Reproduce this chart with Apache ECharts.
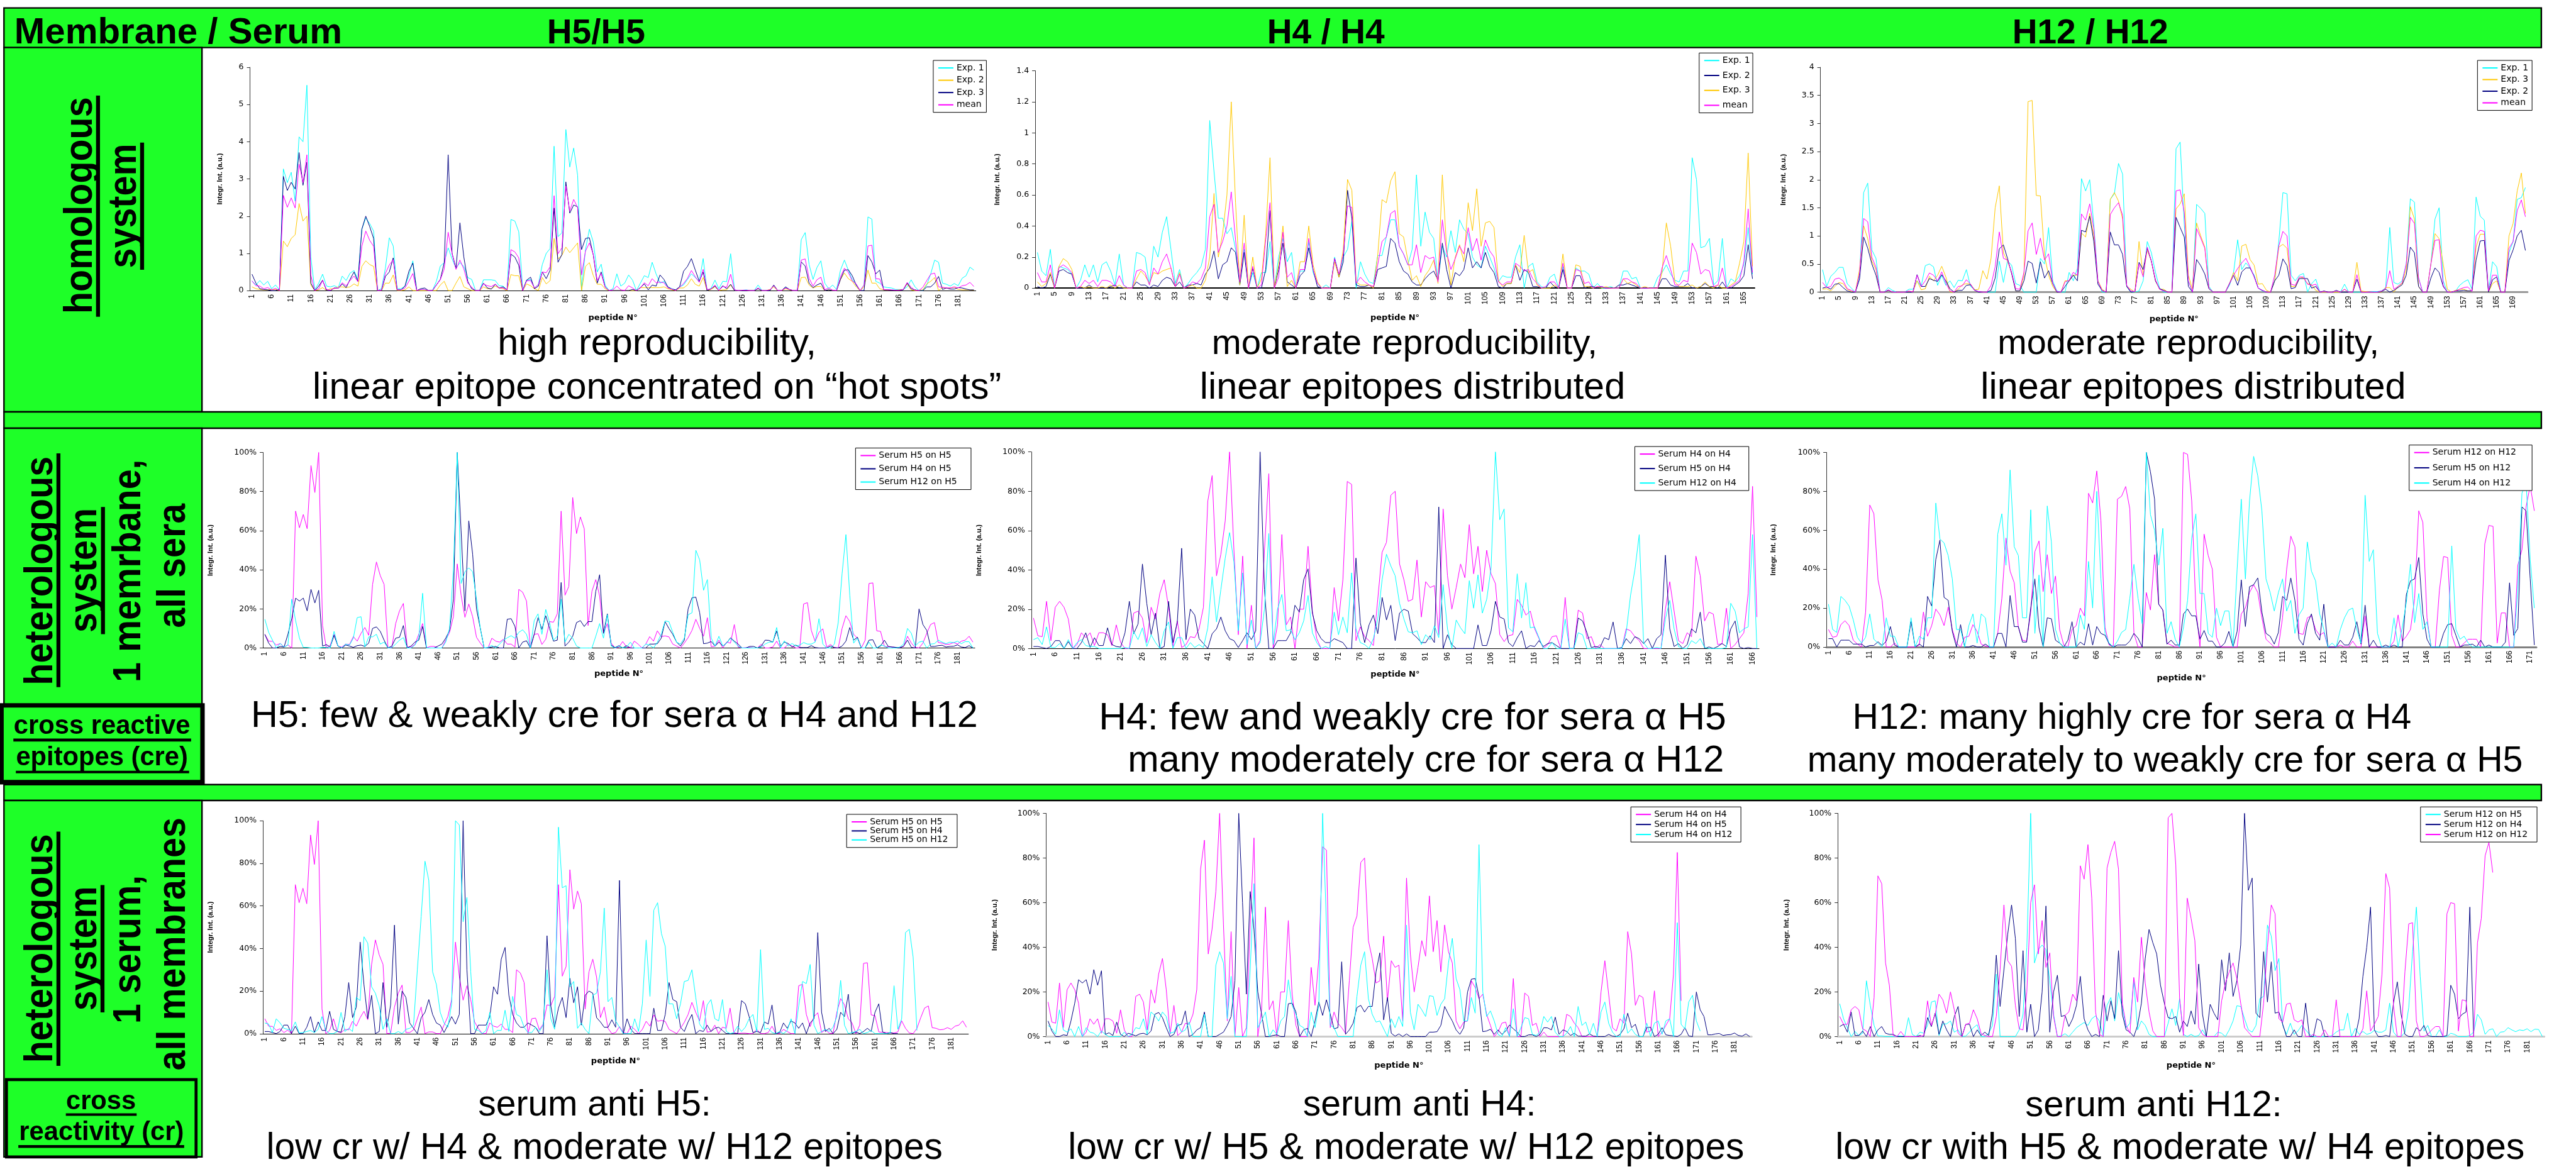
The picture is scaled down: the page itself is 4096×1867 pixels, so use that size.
<!DOCTYPE html>
<html><head><meta charset="utf-8">
<style>html,body{margin:0;padding:0;background:#fff}#c{width:4096px;height:1867px}</style>
<script src="https://cdn.jsdelivr.net/npm/echarts@6/dist/echarts.min.js"></script>
</head><body><div id="c"></div>
<script>
// ---------- values ----------
const exp1H5=[.26,.15,.27,.15,.25,.05,.15,.02,3.27,2.9,
3.18,2.4,4.13,4,5.52,.9,.02,.2,.44,.12,
.1,.13,.08,.39,.27,.47,.54,.3,1.65,1.95,
1.8,1.6,0,.05,.6,1.42,1.2,.05,.05,.12,
.4,.8,0,.03,.03,0,0,.25,.66,.75,
1.15,.85,.6,.75,.65,.35,.3,0,0,.29,
.29,.29,.27,.13,.12,.02,1.91,1.87,1.58,.03,
.28,.3,.07,.17,.7,1,1.13,3.88,1.45,1.55,
4.33,3.32,3.83,3.1,0,1.1,1.65,1.3,.5,.71,
.15,0,.05,.45,.12,.2,.42,.28,0,.2,
.4,.35,.76,.45,.2,.25,.1,.05,.02,.1,
.15,.3,.45,.35,.25,.86,0,.06,.28,.05,
.25,.24,.99,.02,0,.01,.02,0,0,.15,
0,0,.02,.12,0,0,.08,.02,0,0,
1.37,1.56,.7,.3,.62,.8,.2,.05,.15,.03,
.55,.82,.55,.3,.15,0,.15,1.98,1.92,.25,
.2,.1,.08,.07,.03,.03,.03,.1,.29,.1,
0,0,.15,.45,.82,.76,.2,.17,.12,.19,
.13,.33,.4,.63,.55];
const exp2H5=[.1,.05,.03,.02,.02,.03,.03,0,1.33,1.18,
1.4,1.5,2.34,1.87,2,.15,0,.02,.08,0,
.05,.05,.1,.1,.08,.1,.18,.12,.65,.8,
.7,.65,0,0,.2,.2,.42,0,0,.02,
.1,0,0,0,0,0,0,0,.15,.25,
0,0,.2,.38,.1,.05,0,0,0,.1,
.05,.05,.12,.07,.05,0,.43,.4,.4,0,
.18,.13,.05,0,.35,.18,.27,1.4,.85,.95,
1.17,1.02,1.15,1.28,0,.65,.75,.4,.17,.17,
.05,0,0,0,0,0,0,0,0,.08,
.08,.08,.08,.08,.08,.1,.05,.02,0,.07,
.07,.15,.32,.17,.12,.35,0,.03,.1,0,
.02,.02,.15,0,0,.01,.01,0,0,.05,
0,0,.03,.1,0,0,.05,.02,0,0,
.35,.36,.15,.07,.11,.11,0,.02,0,0,
.3,.47,.32,.25,.1,0,.1,.55,.2,.2,
.05,.02,.01,.01,.01,.02,.03,.18,.02,0,
0,.02,.18,.25,.35,0,.08,.06,.07,.09,
.03,.02,.02,.02,.01];
const exp3H5=[.44,.2,.05,.03,.02,0,0,.04,3.07,2.69,
2.91,2.73,3.71,2.83,3.45,.2,0,.12,.28,0,
0,.07,.06,.18,.08,.3,.5,.25,1.65,2,
1.72,1.4,0,0,.38,.5,.88,.02,.02,.12,
.52,.74,0,.05,.07,0,0,.15,.3,.75,
3.65,1,.6,1.82,.9,.25,.05,0,0,.2,
.07,.04,.17,.07,.1,.02,.98,.9,.68,0,
.28,.36,.05,.12,.5,.32,.55,2.22,.76,.97,
2.92,2.08,2.3,2.25,1.1,1.4,1.42,.95,.2,.5,
.1,0,0,0,0,0,0,.03,0,.08,
.18,.02,.15,.12,.42,.3,.1,.04,.02,.1,
.52,.65,.86,.55,.25,.5,0,.05,.12,0,
.13,.05,.17,0,0,0,0,0,0,.05,
0,0,0,.15,0,0,.1,.03,0,0,
.77,.66,.2,.08,.15,.2,0,.02,0,0,
.3,.55,.56,.4,.15,0,0,.94,.77,.45,
.55,.02,.02,.01,.01,.01,.02,.2,.05,.02,
0,0,.1,.1,.2,.38,.03,.07,.04,.04,
.08,.07,.04,.02,.02];
const meanH5=[.26,.13,.12,.05,.08,.02,.06,0,2.56,2.24,
2.49,2.22,3.4,2.9,3.65,.42,0,.05,.27,.03,
.01,.07,.06,.21,.13,.27,.39,.24,1.19,1.6,
1.35,1.19,0,.01,.46,.69,.83,.02,.02,.07,
.25,.46,0,.03,.03,0,0,.15,.29,.58,
1.57,.99,.57,.82,.58,.2,.09,0,0,.18,
.13,.11,.17,.07,.07,.02,1.1,1.04,.88,0,
.26,.27,.07,.16,.5,.48,.64,2.55,.99,1.15,
2.81,2.14,2.45,2.23,.42,1.06,1.28,.97,.27,.46,
.09,0,.02,.12,.02,0,.13,.07,0,.07,
.21,.13,.32,.21,.23,.21,.07,.04,0,.09,
.19,.33,.54,.37,.22,.57,.03,.04,.15,0,
.11,.09,.44,.02,0,.01,.01,0,0,.07,
0,0,.02,.13,0,0,.07,.03,0,0,
.82,.85,.33,.12,.29,.36,.02,.07,.01,0,
.37,.6,.49,.26,.18,0,.15,1.2,1.22,.32,
.31,.03,.02,.02,.01,.01,.03,.22,.09,.01,
0,.09,.27,.44,.47,.1,.09,.07,.07,.1,
.07,.13,.15,.22,.11];
const exp1H4=[.23,.11,.08,.25,0,.14,.13,.12,.09,0,
.05,.15,.07,.15,.04,.15,.17,.11,.02,.22,
.02,0,0,.23,.22,.2,.02,.27,.2,.36,
.46,.25,.03,.12,0,.03,.07,.1,.14,.25,
1.08,.75,.45,.45,.35,.39,.25,.02,.25,0,
.1,0,.1,.1,.3,0,.2,.32,.17,.23,
0,.11,.11,.3,.1,.03,0,.02,0,.2,
.08,.2,.25,.43,0,.17,.09,.04,.03,.21,
.21,.33,.44,.44,.27,.22,.15,.25,.73,.27,
.49,.36,.32,.05,.27,.2,.37,.23,.44,.38,
.35,.2,.15,.13,.27,.2,.13,.04,.08,.07,
.07,.2,.28,0,.14,.16,.04,.01,0,.07,
.09,0,.14,0,0,.13,.11,.11,.09,0,
.03,0,0,.01,0,0,.11,.11,.06,.07,
0,0,0,0,.07,.1,.15,.09,.05,.04,
.11,.11,.84,.7,.26,.27,.32,.02,.05,.32,
0,.06,.04,.08,.15,.39,.09];
const exp2H4=[.01,0,.01,.09,0,.11,.12,.1,.09,0,
0,0,.02,0,0,0,0,.01,.02,0,
0,0,0,.04,.02,.02,0,.02,.01,.05,
.07,.06,.01,.04,0,.02,.02,.03,.02,.09,
.13,.24,.06,.15,.17,.26,.23,.02,.23,0,
.13,0,0,.12,.5,0,.12,.29,.04,.02,
0,.08,.11,.26,.12,.01,0,0,0,.19,
.07,.17,.63,.45,.02,.01,.01,.02,0,.12,
.13,.14,.32,.29,.17,.11,.09,.04,.02,.02,
.06,.09,.11,.05,.29,.12,0,.1,.08,.12,
.26,.13,.17,.13,.23,.14,.1,.01,0,.03,
.03,.15,.05,.12,.1,.01,.01,0,0,.04,
.01,0,.12,0,0,.08,.08,0,.01,.01,
0,.01,0,0,0,.02,.02,.03,.02,.01,
0,0,0,0,0,.06,.06,.02,.01,.01,
.01,.03,0,0,.01,.03,.01,.01,0,.04,
0,0,.02,.04,.08,.28,.06];
const exp3H4=[.04,.01,.03,.1,0,.14,.19,.17,.12,0,
.01,0,.01,0,0,.01,0,.02,0,.02,
0,0,0,.06,.11,.08,.03,.1,.09,.11,
.12,.13,.01,.1,0,.01,.02,0,0,.05,
.2,.61,.2,.35,.6,1.2,.55,.02,.47,0,
.2,0,.06,.35,.84,0,.15,.4,.01,.05,
0,.17,.17,.4,.15,.04,0,0,0,.17,
.07,.25,.7,.63,.04,.02,.02,.02,0,.21,
.57,.55,.69,.75,.35,.33,.18,.05,.08,.01,
.08,.12,.18,.03,.73,.25,.02,.2,.28,.17,
.55,.37,.64,.27,.42,.43,.39,.05,.01,.03,
.03,.15,.1,.34,.1,.12,.02,0,0,0,
.02,0,.22,0,0,.15,.14,.01,.01,0,
.01,0,.01,0,0,0,.06,.03,.04,.02,
0,.01,0,0,0,.1,.42,.27,.04,.01,
.01,.01,.02,0,.01,.04,.01,0,.02,0,
0,.02,.04,.16,.3,.87,.14];
const meanH4=[.1,.04,.04,.15,0,.13,.15,.13,.1,0,
.01,.05,.03,.05,.01,.05,.05,.04,.01,.08,
.02,0,0,.11,.12,.1,.02,.13,.09,.17,
.22,.13,.01,.09,0,.01,.04,.03,.06,.13,
.46,.54,.23,.3,.4,.62,.31,.04,.29,0,
.14,0,.02,.31,.55,0,.07,.36,.07,.1,
0,.12,.12,.32,.12,.03,0,0,0,.19,
.09,.22,.53,.52,.03,.07,.04,.02,.01,.15,
.3,.33,.48,.5,.27,.22,.15,.15,.28,.1,
.21,.19,.2,.04,.44,.23,.12,.19,.27,.22,
.39,.24,.32,.18,.31,.24,.2,.04,.02,.04,
.04,.16,.14,.11,.12,.06,.03,0,.01,.04,
.04,0,.16,0,0,.12,.11,.03,.04,0,
.01,.01,0,0,0,0,.06,.06,.04,.03,
0,0,0,0,0,.13,.21,.12,.02,.02,
.05,.04,.29,.23,.09,.12,.11,.01,.02,.13,
0,.01,.03,.05,.17,.51,.1];
const exp1H12=[.4,.1,.28,.35,.44,.44,.15,.07,0,.3,
1.77,1.94,.75,.6,0,0,.08,.03,0,0,
0,.05,.05,.2,.1,.47,.5,.45,.12,.3,
.12,.2,.08,.21,.2,.4,.1,.05,0,0,
0,0,0,.55,.17,.55,.48,.15,.12,0,
0,0,0,.6,.5,1.15,.2,.02,0,0,
.35,.2,.42,2.02,1.8,2,1.2,.2,0,0,
1.65,1.75,2.29,2.1,.1,0,0,.02,.2,.9,
.7,.35,.07,0,0,0,2.55,2.67,1.2,.2,
0,1.56,1.49,1.4,.1,0,0,0,0,.12,
.35,.93,.4,.52,.43,.3,.07,.02,0,0,
.2,.9,1.77,1.75,.3,.2,.3,.33,0,.15,
.23,0,.01,0,0,.02,0,.14,0,0,
0,0,0,0,.01,.01,.02,.08,1.15,.17,
.14,.2,.5,1.66,1.6,.25,0,0,.5,1.3,
1.5,.2,0,0,.02,.12,.18,.22,.05,1.69,
1.35,1.28,0,.54,.45,0,0,.7,.9,1.65,
1.68,1.86];
const exp3H12=[.05,.06,.02,.1,.17,.15,.05,.01,0,.4,
1.18,.95,.55,.4,0,0,.03,0,0,0,
0,.01,.01,.2,.04,.06,.28,.2,.3,.46,
.27,0,0,.05,.13,.15,.14,.04,.05,.38,
.23,.6,1.5,1.89,.7,.55,.35,.02,.02,.3,
3.39,3.41,1.72,1.71,.65,.3,.1,0,0,.2,
.2,.3,.3,1.05,.98,1.4,1,.2,.05,0,
1.65,1.77,1.62,1.3,.1,.05,0,.9,.3,.75,
.55,.2,.05,.05,0,0,1.48,1.57,1.75,.3,
.05,1.23,1,.8,.07,0,0,0,0,.15,
.35,.2,.82,.85,.58,.48,.14,.15,.03,0,
.2,.8,.85,.78,.1,.1,.27,.25,.15,.13,
.03,0,0,0,0,0,0,.05,0,0,
.53,.02,.01,0,0,0,0,.08,.08,0,
.1,.15,.4,1.52,1.3,.1,0,0,.5,1.04,
.95,.5,.05,0,.03,.05,.05,.02,.02,.8,
1.03,1.03,0,.15,.2,0,0,1,1.22,1.8,
2.12,1.4];
const exp2H12=[.07,.09,.05,.14,.15,.08,.02,0,0,.23,
.98,.78,.5,.3,0,0,.03,0,0,0,
0,0,0,.31,.1,.1,.24,.21,.19,.31,
.2,.06,0,.03,.03,.12,.13,.03,0,0,
0,.03,.25,.77,.84,.6,.33,.02,.02,.2,
.55,.51,.16,.54,.25,.38,.15,0,0,.1,
.2,.3,.2,1.1,1.07,1.35,.9,.14,.03,0,
1.07,.84,.84,.67,.1,0,.01,.53,.4,.78,
.55,.2,.06,.03,0,0,1.33,1.15,.98,.1,
0,.58,.47,.32,.06,0,0,0,0,.15,
.3,.12,.36,.43,.43,.28,.07,.03,0,0,
.2,.3,.59,.47,.06,.08,.24,.24,.24,.07,
.1,0,.02,0,0,.03,0,0,0,0,
.23,0,0,0,0,0,.01,.05,0,.03,
.08,.13,.3,.8,.7,.1,0,0,.25,.43,
.35,.1,0,0,.02,.02,.03,.02,.02,.57,
.91,.92,0,.22,.27,0,0,.56,.75,1,
1.1,.74];
const meanH12=[.17,.08,.1,.23,.25,.2,.06,.03,0,.33,
1.31,1.25,.62,.44,0,0,.04,0,0,0,
0,.02,0,.3,.1,.2,.34,.3,.2,.36,
.16,.02,0,.1,.11,.22,.14,.03,.01,0,
0,.12,.45,1.07,.6,.57,.35,.06,.05,.35,
1.09,1.23,.67,.96,.57,.68,.16,.01,0,.18,
.21,.35,.3,1.39,1.28,1.57,1.13,.19,.03,0,
1.38,1.5,1.59,1.37,.12,.02,.01,.5,.27,.8,
.55,.22,.05,.02,0,0,1.8,1.82,1.42,.2,
0,1.13,.96,.78,.07,0,0,0,0,.15,
.3,.42,.52,.6,.45,.27,.07,.03,0,0,
.3,.82,1.08,1,.14,.12,.27,.27,.14,.12,
.14,0,.01,0,0,.02,0,.05,0,0,
.31,0,0,0,0,0,.02,.06,.38,.05,
.1,.17,.5,1.33,1.22,.25,0,0,.5,.92,
.93,.12,0,0,.02,.05,.08,.09,.01,1,
1.1,1.08,.02,.3,.3,0,0,.78,.9,1.45,
1.64,1.34];
const serumH5onH5=[7,3.5,3.4,1.5,2.3,.5,1.6,0,70,61.5,
68.3,61,93.3,79.5,100,11.5,0,1.5,7,1,
.4,2,1.8,5.8,3.5,7.5,10.5,6.5,32.5,44,
37,32.5,0,.2,12.5,19,22.8,.5,.5,1.8,
7,12.5,0,.8,.8,0,0,4,8,16,
43,27,15.7,22.5,16,5.5,2.5,0,0,5,
3.5,3,4.5,2,2,.5,30,28.5,24,0,
7,7.3,1.8,4.5,13.5,13.2,17.5,70,27,31.5,
77,58.5,67,61,11.5,29,35,26.5,7.5,12.5,
2.5,0,.5,3.3,.5,0,3.5,2,0,2,
5.8,3.5,8.8,5.8,6.2,5.7,2,1,0,2.5,
5.3,9,14.7,10,6,15.5,.7,1,4,0,
3,2.5,12,.5,0,.2,.2,0,0,2,
0,0,.5,3.5,0,0,2,1,0,0,
22.5,23.2,9,3.3,8,9.8,.5,1.8,.2,0,
10,16.5,13.5,7,5,0,4,33,33.3,8.8,
8.5,.8,.6,.5,.3,.3,.8,6,2.5,.3,
0,2.5,7.5,12,13,2.8,2.5,1.8,2,2.8,
2,3.5,4,6,3];
const serumH4onH5=[7,2.5,0,0,.8,.5,7,15,25.5,24,
25.5,19,30,23,29.5,1,1.7,.5,6.5,1,
0,1.5,1,.3,1.2,1.5,.8,2.5,10,10.8,
8.5,4,0,1,5,5.5,11.5,0,1,3,
4,11,0,0,0,1,2,5,9,25,
100,60,19,65,48,20,10,0,0,.5,
.8,0,0,14.7,15,11,0,3,3.7,0,
7,15.5,9.5,16.5,10,3.5,4,33.5,1,3,
6,13,14,11,13.5,13.5,29,37.5,7.5,17.5,
1.5,.2,1.2,0,1.2,0,0,0,0,0,
2,2,2.2,5,13.5,10,7,3,1,4,
20,25.7,26,18,2.2,2.5,3.3,1,3,1,
2.5,5.2,3.5,2,0,0,.8,.8,0,1,
4,3.9,3,8.7,1,3,2.3,.5,1.5,.2,
.2,.2,1.2,.2,0,0,0,1,.2,0,
1,3.5,10.5,4,5.5,0,0,4,4.2,0,
1,4,.8,.5,.3,0,1,4,.3,0,
20,12,9,.8,.8,1.2,1.4,.5,.8,.9,
1.6,.5,.2,1.2,0];
const serumH12onH5=[14.7,8,4,0,2.3,.5,1.5,25,14,5,
.3,.3,0,0,0,.3,.3,0,8.5,1,
0,2,1.5,5,15.5,16,.5,5.7,5.7,7,
2,3,0,.2,2,4,5.3,0,0,1.5,
5,28,0,0,0,0,0,3,10,40,
100,33,39,41,39,25,10,0,.3,1.3,
0,2,4,5.2,6.3,5,8,9.3,7,0,
14,17.5,7,19.7,13,4,6,25,3,7,
5,1,0,0,0,0,6,12.5,5,17,
1,0,1,0,.5,3,0,0,0,2,
1.5,0,3,7,13.8,13.5,8,3,2,5,
17,18,50,45,29.5,35,5,1,6,1,
2.5,5,3,1,0,0,0,0,0,.5,
2,3,3,10.5,0,3.7,1,2.3,1,1.5,
2.8,2,2,3,15,2,0,0,2,13,
38,58,27,2.5,5,0,0,3,0,0,
1.5,1,0,0,0,.5,2,10,7.5,1,
3,3.5,0,2,2.2,4,3,2.2,3,2.7,
3.5,2.2,3.3,3.2,0];
const serumH4onH4=[15.5,6.5,6,24,4,21,24,21,15,0,
2,8,5.5,8,1.5,8,8,7,1.5,12,
3,0,0,18,19,15.5,3,21,15,28,
35,21,1,14,.5,2,6,5.5,10,21,
75,88,37,48,65,100,50,7,47,0,
22,0,4,50,89,0,12,58,12,16,
0,20,20,52,19,5,0,0,0,31,
14,35,85,83.5,4,11,6,4,1.5,25,
49,54,78,80,43,35,24,25,45,16,
34,31,32,7,71,37,20,31,43,36,
63,38,52,29,50,38,33,7,3.5,6.5,
7,25,22,17,19,10,5,0,2,6,
6.5,0,26,0,0,19.5,18,5,6,0,
2,0,0,0,0,0,10,9,6,4,
0,0,0,0,0,20,34,19,4,2.5,
8,6,47,37,14,18.5,17.5,2,2.5,20.5,
0,2,5,8,28,82.5,16];
const serumH5onH4=[1,1,.5,0,1,4,4,0,3.5,0,
0,3,8,.5,5.5,1.5,1.5,10.5,2,1,
.7,8,24,7.5,12.5,43,23,7,18,0,
1,24,3,13.5,51,4.5,20,17,5,2.5,
0,7.5,10,16,9,5,4,.5,4,8,
4.5,9,100,30,0,0,4,4,4,8,
22,18.5,35,40.5,18,9,5,3,3,5,
4,3,0,0,46,13,3,12,17,7.5,
26,14.5,22,4,18,20,19,7.5,5.5,3,
3,6.5,3,72,0,7,2,0,0,0,
0,0,12,1.5,1.5,9,24,16,15,3,
1,5.5,9,0,1.5,1,4,1,2.5,3,
1.5,0,0,0,0,15.5,14,8,.5,1,
.5,5.5,4.5,13.5,0,.5,5,2.5,6,5,
2.5,5,0,5,7,47.5,10,1,2.5,0,
2,10,8,18.5,0,.8,0,1,2.5,1,
10,14,.8,0,.5,0,0];
const serumH12onH4=[4.5,5.5,2,11,.5,.5,2.5,0,4.5,0,
3,4.5,1.5,1,1,0,0,0,0,0,
0,.5,0,8.5,4.5,10.5,1,7,3,0,
9,13.5,0,5.5,5.5,0,3,.5,2,.5,
10.5,36.5,13.5,30,46,59,44,9,38.5,2,
14.5,0,3,20,58.5,2,20,27.5,9,9.5,
4.5,8,14,27,8,3,0,1,0,18.5,
7,16,8,38.5,10,3,2,0,5,15,
35,48,42,37,23,15,8.5,8,9,2,
7,4.5,11.5,5.5,32.5,10,0,14.5,10.5,7.5,
34.5,20.5,37.5,18,25,41,100,65.5,71,10.5,
8.5,38,15.5,33.5,10.5,11,5.5,0,0,3,
0,0,15,0,0,8,7,0,0,0,
0,0,0,0,0,0,8,27,40,58,
3,0,0,.5,0,15,24.5,10,1,0,
0,4,2.5,5,.5,0,0,0,0,.5,
23,19,8,10,11,58,0];
const serumH12onH12=[9,5,5.5,11.5,13.5,11,3.5,1.5,0,18,
73,68.5,34.5,24,0,0,2,0,0,0,
0,0,1,18,5.5,11,19.5,16.5,11,20.5,
9,2,0,5,5.5,11.5,8,1.5,.5,0,
0,7,25,56,39,33,10,3.5,3,18,
49,54.5,28.5,47.5,27.5,36.5,9,1,0,9,
11,20,16,79,74,90.5,65,10,1,.5,
76,77.5,82.5,71,7,0,0,28,19,47.5,
22,19,2,1,0,0,100,99,75,20,
0,58,47,40,5,0,0,0,0,0,
17,20,28,32,28,15,4,2,0,0,
15,40,57,51.5,7,6.5,15,16,9,6,
7.5,0,0,0,1,0,0,3,0,0,
16,0,0,0,0,0,0,3,16.5,3,
5.5,9,25,70,64,15,0,0,29,46.5,
46,6,0,0,2,4,4,4,0,53,
62.5,62,2,17.5,17.5,0,0,42,50,72,
83,70];
const serumH5onH12=[4.3,4.3,0,3.5,3.5,3.5,1.5,1.5,1.5,0,
.8,.8,2.7,.8,3,10.5,1,0,0,0,
13,0,1.5,0,26,21,45,55,25.5,24,
8,0,11.5,0,0,.8,0,0,1.5,0,
0,7,7,0,26.5,10.5,10.5,2.5,2.5,20,
35,10,0,15,14.5,3.5,2,0,3.5,13,
0,2.5,1,12,1,10.5,7,6,1.5,0,
1,1,1,3,7,4.5,0,100,90,76,
22,19,1.5,3.5,1,1,17,19.5,16,16,
4,8.5,3,3,0,0,2,8,0,8,
34.5,10.5,31,32,35.5,18,7,5.5,1.5,7.5,
26,24,35.5,24,4,1,12,17,7,3.5,
22,0,0,0,3.5,1,1,5,13,1.5,
21.5,0,3.5,0,0,1,0,1,0,0,
27,34,35,46,17,4,0,0,0,7,
11.5,12,6,0,1,1,1.5,0,3.5,0,
1,0,0,0,2.5,33,6,9.5,72,70,
35,1];
const serumH4onH12=[22,9,7.5,26,24,21,14,5,2,5,
17,4,2,0,15,5.5,5.5,0,0,0,
15,0,5.5,4,15,15,74,55.5,53.5,47,
35,9,9,0,11,17,2,17,15,0,
0,58,68.5,42,91,51.5,47,15,15,70.5,
7,37,0,72.5,54,9,2,0,0,0,
0,16.5,9,44,20,80,35,7,2,0,
3,7.5,9,25,42.5,25,12,100,68,60,
42,61,7,13,4,0,10,24,56,68.5,
27.5,27.5,7,5,20,11,18.5,18.5,0,40,
76,35,75,98,88,70,35,28,18.5,28,
35,18.5,24,7,16.5,20,54,39,34,17,
9,0,2,0,9,15,19,20,9,2,
78,44,50,7,0,0,0,15,0,10,
23,42.5,12.5,27.5,9,13,0,0,0,0,
0,52,9,4,5.5,2,0,0,0,0,
0,0,0,0,0,0,0,30,79,85,
45,20];
const serumH5onH12b=[5,4.5,.5,7,5,2.5,2,1.5,5.5,.3,
.5,1,1.5,.5,2,8,1.5,0,0,1,
10,1,2.5,1,17,15.5,45.5,42.5,22,19,
13,2,7,0,0,1,0,2,2.5,4,
30,55,81,72,29,23,10,5,3,14,
100,98,52.5,64,29,2,1.5,0,1.5,10,
0,1.5,1.5,11,1,17.5,9,8,3,.5,
.5,3,1,4,30,7,2,97,68.5,69.5,
22,24.5,2.5,5,2,0,18,19,29,59,
15,17,6,3,0,0,0,7,1,14,
44,17.5,58,61.5,47,41,14,14,7,14,
24.5,25,30,17,4.5,2,13.5,16,7,6,
16,1,0,.5,3.5,1,3,7,9,1,
39.5,2,2.5,.5,0,1,0,1.5,7,0,
13,24.5,23.5,32.5,4,0,1,2,1,3,
8,25,4,0,.5,1,2,0,.5,1.5,
0,0,0,0,.3,22.5,2,7,47.5,49,
36,1.5];
const serumH4onH12b=[5,3.5,1,12,3,2,3.5,0,4.5,0,
4,2,1.5,0,2.5,1,0,0,0,0,
2,0,1,4,3.5,8,1,11,9.5,7,
11,9,1.5,2,6,2,3,6.5,0,0,
0,10,0,0,32,38,33,8,27,0,
0,0,0,30,68.5,4,7,11,0,3,
1,7,9,25.5,14,10,5,4,0,11,
4,14,100,50,5,4,0,0,0,0,
0,18,32,38,17,10,6.5,7,3.5,0,
8,4,9,4.5,50,11,3,14.5,12,9,
18.3,18,9.5,14.5,17,33,44,26,21,7,
7,17.5,10.5,86,20,9,11.5,7,1,0,
4,0,12.5,0,4,8.5,8,1,.5,2,
9,6.5,9,2,0,0,1.5,4.5,0,13.5,
5,6.5,1,6,0,11,15.5,6,2,0,
0,10,1.5,3.5,1,0,0,6,0,6,
7,1,7,8,0,51,5.5,3.5,15.5,18.5,
7,2.5];
const serumH12onH12b=[9,5.5,5.5,12,13.5,12,3.5,2.5,0,17.5,
72,68.5,33,23,.5,0,2.3,0,0,0,
0,0,.5,16,5,10,19,16.5,10.5,20,
12,1.5,0,5.5,6,12,8,1.5,.5,0,
0,9,30,59,34,31.5,14,3.5,3,20,
60,68,37,52,31,37.5,9,0,0,9.5,
11,19,16,76.5,70.5,86,62,11,1,0,
75.5,82.5,87.5,75,15,5,1.5,26.5,15.5,44.5,
24,11,2.5,0,0,0,98,100,77,17,
.5,62,53,43,4,1,0,0,0,0,
16,24,29,33,26,15,4,2,0,0,
0,15,40,59,55,8,6.5,14.5,15,7.5,
6.5,7.5,0,0,1,0,0,3,0,0,
16.5,0,0,0,0,0,0,3.5,20.5,2.5,
5.5,9,28,73,66.5,14,0,0,29,50.5,
51,7,0,0,1,3,4.5,4.5,0,55,
60,59.5,2.5,16.5,16,0,0,42,53,81,
87,73.5];
const panelTitles=['H5/H5','H4 / H4','H12 / H12'];
const headerTitle='Membrane / Serum';
const axisNameY='Integr. Int. (a.u.)';
const axisNameX='peptide N°';
// ---------- styling + layout (reference pixels, scaled by S) ----------
const S=4096/5203, CY='#00FFFF', YE='#FFC800', NA='#000080', MA='#FF00FF', GREEN='#1EFF28';
const FONT='"Liberation Sans",Arial,sans-serif';
const pct='{value}%';
function cats(n){return Array.from({length:n},(_,i)=>String(i+1));}
const panels=[
 {box:[505,136,1971,587],n:185,max:6,step:1,lab:5,gapY:53,gapX:47,axis:'#000',axisW:1,leg:[1885,122,1991,227],
  s:[['Exp. 1',exp1H5,CY],['Exp. 2',exp2H5,YE],['Exp. 3',exp3H5,NA],['mean',meanH5,MA]]},
 {box:[2091,143,3544,582],n:167,max:1.4,step:.2,lab:4,gapY:70,gapX:52,axis:'#000',axisW:2,leg:[3432,107,3539,228],
  s:[['Exp. 1',exp1H4,CY],['Exp. 2',exp2H4,NA],['Exp. 3',exp3H4,YE],['mean',meanH4,MA]]},
 {box:[3677,136,5105,590],n:172,max:4,step:.5,lab:4,gapY:67,gapX:46,axis:'#999',axisW:3,leg:[5004,122,5113,223],
  s:[['Exp. 1',exp1H12,CY],['Exp. 3',exp3H12,YE],['Exp. 2',exp2H12,NA],['mean',meanH12,MA]]},
 {box:[531,914,1969,1309],n:185,max:100,step:20,lab:5,gapY:98,gapX:44,fmt:pct,axis:'#000',axisW:1,leg:[1728,905,1960,989],
  s:[['Serum H5 on H5',serumH5onH5,MA],['Serum H4 on H5',serumH4onH5,NA],['Serum H12 on H5',serumH12onH5,CY]]},
 {box:[2083,913,3553,1310],n:167,max:100,step:20,lab:5,gapY:98,gapX:44,fmt:pct,axis:'#000',axisW:1,leg:[3302,902,3531,991],
  s:[['Serum H4 on H4',serumH4onH4,MA],['Serum H5 on H4',serumH5onH4,NA],['Serum H12 on H4',serumH12onH4,CY]]},
 {box:[3689,914,5123,1307],n:172,max:100,step:20,lab:5,gapY:100,gapX:55,fmt:pct,axis:'#808080',axisW:3,leg:[4866,899,5113,991],
  s:[['Serum H12 on H12',serumH12onH12,MA],['Serum H5 on H12',serumH5onH12,NA],['Serum H4 on H12',serumH4onH12,CY]]},
 {box:[531,1658,1956,2088],n:185,max:100,step:20,lab:5,gapY:98,gapX:47,fmt:pct,axis:'#000',axisW:1,leg:[1710,1645,1932,1712],
  s:[['Serum H5 on H5',serumH5onH5,MA],['Serum H5 on H4',serumH5onH4,NA],['Serum H5 on H12',serumH5onH12b,CY]]},
 {box:[2113,1643,3538,2094],n:185,max:100,step:20,lab:5,gapY:97,gapX:50,fmt:pct,axis:'#ccc',axisW:3,leg:[3294,1630,3515,1701],
  s:[['Serum H4 on H4',serumH4onH4,MA],['Serum H4 on H5',serumH4onH5,NA],['Serum H4 on H12',serumH4onH12b,CY]]},
 {box:[3712,1643,5139,2094],n:185,max:100,step:20,lab:5,gapY:96,gapX:50,fmt:pct,axis:'#ccc',axisW:3,leg:[4889,1630,5123,1701],
  s:[['Serum H12 on H5',serumH12onH5,CY],['Serum H12 on H4',serumH12onH4,NA],['Serum H12 on H12',serumH12onH12b,MA]]}
];
const measureCtx=document.createElement('canvas').getContext('2d');
const option={animation:false,backgroundColor:'#fff',grid:[],xAxis:[],yAxis:[],series:[],legend:[]};
panels.forEach((p,i)=>{
 const [x0,y0,x1,y1]=p.box;
 option.grid.push({left:x0*S,top:y0*S,width:(x1-x0)*S,height:(y1-y0)*S,containLabel:false});
 option.xAxis.push({gridIndex:i,type:'category',data:cats(p.n),boundaryGap:true,name:axisNameX,nameLocation:'middle',nameGap:p.gapX*S,
  nameTextStyle:{fontFamily:'"DejaVu Sans"',fontWeight:'bold',fontSize:13,color:'#000'},
  axisLine:{lineStyle:{color:p.axis,width:p.axisW},onZero:false},
  axisTick:{interval:0,length:4,alignWithLabel:false,lineStyle:{color:'#000',width:1}},
  axisLabel:{interval:p.lab-1,rotate:90,margin:6,fontFamily:'"Liberation Sans Narrow","Liberation Sans"',fontSize:12,color:'#000'},
  splitLine:{show:false}});
 option.yAxis.push({gridIndex:i,type:'value',min:0,max:p.max,interval:p.step,name:axisNameY,nameLocation:'middle',nameGap:p.gapY*S,nameRotate:90,
  nameTextStyle:{fontFamily:FONT,fontWeight:'bold',fontSize:11,color:'#000'},
  axisLine:{show:true,lineStyle:{color:'#333',width:1}},
  axisTick:{show:true,length:5,lineStyle:{color:'#333',width:1}},
  axisLabel:{margin:10,formatter:p.fmt||undefined,fontFamily:'"DejaVu Sans"',fontSize:12.5,color:'#000'},
  splitLine:{show:false}});
 p.s.forEach(([name,data,color])=>{
  option.series.push({type:'line',name,data,xAxisIndex:i,yAxisIndex:i,symbol:'none',showSymbol:false,silent:true,
   lineStyle:{color,width:1},itemStyle:{color},clip:false,z:2});
 });
 const [lx0,ly0,lx1,ly1]=p.leg, n=p.s.length, fs=14, ih=14, pad=5, padL=7, keyW=24, keyGap=5;
 const boxH=(ly1-ly0)*S, boxW=(lx1-lx0)*S;
 measureCtx.font=fs+'px "DejaVu Sans"';
 const textW=Math.max(...p.s.map(([name])=>measureCtx.measureText(name).width));
 const padR=Math.max(2,boxW-padL-keyW-keyGap-textW);
 option.legend.push({orient:'vertical',left:lx0*S,top:ly0*S,selectedMode:false,
  data:p.s.map(([name,,color])=>({name,itemStyle:{color:'rgba(0,0,0,0)',opacity:0,borderWidth:0},lineStyle:{color,width:2}})),
  backgroundColor:'#fff',borderColor:'#000',borderWidth:1,padding:[pad,padR,pad,padL],
  itemGap:(boxH-2*pad-n*ih)/(n-1),itemWidth:keyW,itemHeight:ih,
  textStyle:{fontFamily:'"DejaVu Sans"',fontSize:fs,color:'#000'}});
});
// frame rectangles [x,y,x2,y2,fill,stroke,lineWidth]
const frames=[
 [8,16,5133,96,GREEN,'#000',3],[8,96,408,832,GREEN,'#000',3],[8,832,5133,865,GREEN,'#000',3],
 [8,865,408,1424,GREEN,'#000',3],[8,1585,5133,1617,GREEN,'#000',3],[8,1617,408,2337,GREEN,'#000',3],
 [3,1425,409,1580,GREEN,'#000',9],[13,2181,396,2337,GREEN,'#000',6]];
// underlines [x,y,x2,y2]
const bars=[[194,193,202,640],[283,288,291,545],
 [114,916,122,1388],[204,1024,212,1281],[27,1492,386,1498],[32,1557,382,1562],
 [114,1680,122,2153],[203,1788,211,2045],[133,2249,276,2254],[37,2313,372,2319]];
// horizontal bold labels [text,cx,baseline,size]
const boldText=[[headerTitle,360,92,74],[panelTitles[0],1204,92,70],[panelTitles[1],2678,92,70],[panelTitles[2],4222,92,70],
 ['cross reactive',206,1486,53],['epitopes (cre)',206,1549,53],['cross',204,2244,53],['reactivity (cr)',205,2307,53]];
// vertical bold labels [text,baselineX,centerY]
const vertText=[['homologous',190,415],['system',280,416],
 ['heterologous',110,1153],['system',199,1152],['1 memrbane,',289,1153],['all sera',379,1143],
 ['heterologous',110,1916],['system',199,1916],['1 serum,',289,1918],['all membranes',379,1907]];
// captions [text,cx,cy,sizeFactor]
const captions=[['high reproducibility,',1327,696,1],['linear epitope concentrated on “hot spots”',1327,785,1],
 ['moderate reproducibility,',2837,696,.95],['linear epitopes distributed',2853,785,1],
 ['moderate reproducibility,',4420,696,.94],['linear epitopes distributed',4430,785,1],
 ['H5: few & weakly cre for sera α H4 and H12',1241,1448,1],
 ['H4: few and weakly cre for sera α H5',2853,1452,1.024],['many moderately cre for sera α H12',2880,1538,1],
 ['H12: many highly cre for sera α H4',4306,1452,.968],['many moderately to weakly cre for sera α H5',4373,1538,.965],
 ['serum anti H5:',1201,2234,.96],['low cr w/ H4 & moderate w/ H12 epitopes',1221,2321,.988],
 ['serum anti H4:',2867,2234,.96],['low cr w/ H5 & moderate w/ H12 epitopes',2840,2321,.988],
 ['serum anti H12:',4350,2234,.975],['low cr with H5 & moderate w/ H4 epitopes',4403,2321,.995]];
const g=[];
frames.forEach(([a,b,c,d,fill,stroke,w])=>g.push({type:'rect',silent:true,z:-1,shape:{x:a*S,y:b*S,width:(c-a)*S,height:(d-b)*S},style:{fill,stroke,lineWidth:w*S}}));
bars.forEach(([a,b,c,d])=>g.push({type:'rect',silent:true,z:1,shape:{x:a*S,y:b*S,width:(c-a)*S,height:(d-b)*S},style:{fill:'#000'}}));
boldText.forEach(([t,cx,by,sz])=>g.push({type:'text',silent:true,z:2,x:cx*S,y:(by-0.34*sz)*S,style:{text:t,font:`bold ${sz*S}px ${FONT}`,fill:'#000',textAlign:'center',textVerticalAlign:'middle'}}));
const VS=73, VSCALE=1.1;
vertText.forEach(([t,bx,cy])=>g.push({type:'text',silent:true,z:2,x:(bx-0.34*VS*VSCALE)*S,y:cy*S,rotation:Math.PI/2,scaleY:VSCALE,style:{text:t,font:`bold ${VS*S}px ${FONT}`,fill:'#000',textAlign:'center',textVerticalAlign:'middle'}}));
captions.forEach(([t,cx,cy,f])=>g.push({type:'text',silent:true,z:2,x:cx*S,y:cy*S,style:{text:t,font:`${75.4*f*S}px ${FONT}`,fill:'#000',textAlign:'center',textVerticalAlign:'middle'}}));
option.graphic={elements:g};
const chart=echarts.init(document.getElementById('c'),null,{renderer:'canvas',width:4096,height:1867});
chart.setOption(option);
</script></body></html>
